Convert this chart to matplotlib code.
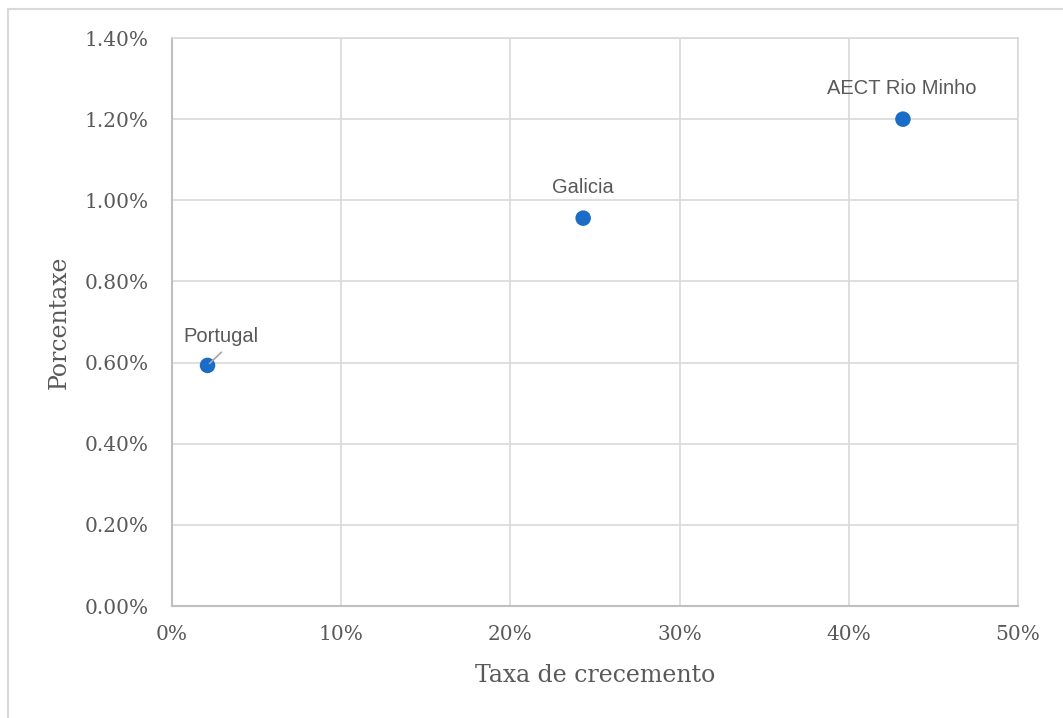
import matplotlib.pyplot as plt
from matplotlib.lines import Line2D
from matplotlib.ticker import FuncFormatter

# valores
names = ['Portugal', 'Galicia', 'AECT Rio Minho']
growth = [0.021, 0.243, 0.432]       # taxa de crecemento
share = [0.00593, 0.00956, 0.0120]   # porcentaxe

xticks = [0, 0.1, 0.2, 0.3, 0.4, 0.5]
yticks = [0, 0.002, 0.004, 0.006, 0.008, 0.010, 0.012, 0.014]

grey = '#595959'
blue = '#1a6cc6'
serif = 'DejaVu Serif'

fig = plt.figure(figsize=(10.63, 7.18), dpi=100)
ax = fig.add_axes([172/1063, 1 - 606/718, (1018-172)/1063, (606-38)/718])

ax.scatter(growth, share, s=125, color=blue, zorder=3, edgecolors='none')

ax.set_xlim(0, 0.5)
ax.set_ylim(0, 0.014)
ax.set_xticks(xticks)
ax.set_yticks(yticks)
ax.xaxis.set_major_formatter(FuncFormatter(lambda v, p: '%d%%' % round(v * 100)))
ax.yaxis.set_major_formatter(FuncFormatter(lambda v, p: '%.2f%%' % (v * 100)))
ax.tick_params(length=0, colors=grey, labelsize=14.5)
ax.tick_params(axis='x', pad=14)
ax.tick_params(axis='y', pad=17)
for lab in ax.get_xticklabels() + ax.get_yticklabels():
    lab.set_family(serif)

ax.grid(True, color='#d9d9d9', linewidth=1.2)
ax.set_axisbelow(True)
for side in ['top', 'right']:
    ax.spines[side].set_color('#d9d9d9')
    ax.spines[side].set_linewidth(1.2)
for side in ['left', 'bottom']:
    ax.spines[side].set_color('#bfbfbf')
    ax.spines[side].set_linewidth(1.5)

ax.set_xlabel('Taxa de crecemento', family=serif, fontsize=17, color=grey, labelpad=14)
ax.set_ylabel('Porcentaxe', family=serif, fontsize=17, color=grey, labelpad=10)

# etiquetas dos puntos
offsets = [(9.5, 21), (0, 22), (-1, 22)]
for n, x, y, off in zip(names, growth, share, offsets):
    ax.annotate(n, (x, y), xytext=off, textcoords='offset points',
                ha='center', va='center', fontsize=14.5, color=grey,
                family='Liberation Sans')
# liña guía de Portugal
ax.annotate('', (growth[0], share[0]), xytext=(10, 9.5), textcoords='offset points',
            arrowprops=dict(arrowstyle='-', color='#a6a6a6', lw=1.2,
                            shrinkA=0, shrinkB=2))

# bordo exterior do gráfico
fig.add_artist(Line2D([8/1063, 8/1063], [0, 1 - 9/718], color='#d9d9d9', lw=1.5))
fig.add_artist(Line2D([8/1063, 1], [1 - 9/718, 1 - 9/718], color='#d9d9d9', lw=1.5))

fig.savefig('out.png', dpi=100)
